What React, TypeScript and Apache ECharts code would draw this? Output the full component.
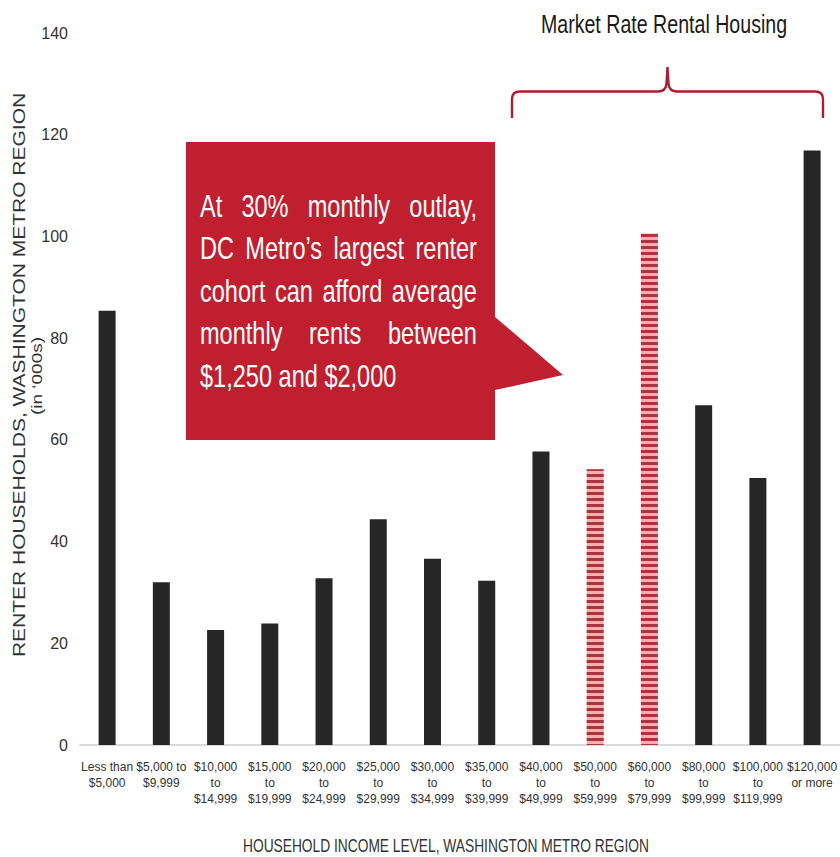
import { useEffect, useRef } from "react";
import * as echarts from "echarts";

// Household income brackets (x axis)
const CATEGORIES = [
  "Less than\n$5,000",
  "$5,000 to\n$9,999",
  "$10,000\nto\n$14,999",
  "$15,000\nto\n$19,999",
  "$20,000\nto\n$24,999",
  "$25,000\nto\n$29,999",
  "$30,000\nto\n$34,999",
  "$35,000\nto\n$39,999",
  "$40,000\nto\n$49,999",
  "$50,000\nto\n$59,999",
  "$60,000\nto\n$79,999",
  "$80,000\nto\n$99,999",
  "$100,000\nto\n$119,999",
  "$120,000\nor more",
];

// Renter households, thousands
const RENTER_HOUSEHOLDS = [85.4, 32.0, 22.6, 23.9, 32.8, 44.4, 36.6, 32.3, 57.7, 54.2, 100.6, 66.8, 52.5, 116.9];

// Brackets whose rents fall in the $1,250 - $2,000 range
const AFFORDABLE_COHORT = ["$50,000\nto\n$59,999", "$60,000\nto\n$79,999"];

const Y_MIN = 0;
const Y_MAX = 140;
const Y_INTERVAL = 20;

const TITLE = "Market Rate Rental Housing";
const X_AXIS_NAME = "HOUSEHOLD INCOME LEVEL, WASHINGTON METRO REGION";
const Y_AXIS_NAME = "RENTER HOUSEHOLDS, WASHINGTON METRO REGION";
const Y_AXIS_UNIT = "(in ‘000s)";
const CALLOUT_LINES = [
  "At 30% monthly outlay,",
  "DC Metro’s largest renter",
  "cohort can afford average",
  "monthly rents between",
  "$1,250 and $2,000",
];

const SANS = "'Liberation Sans', Arial, sans-serif";
const BAR_DARK = "#262626";
const CALLOUT_RED = "#c01f2f";
const BRACE_RED = "#a81f2d";

// Curly bracket spanning the market-rate brackets
echarts.graphic.registerShape(
  "marketBrace",
  echarts.graphic.extendPath(
    "M512,118 L512,99 Q512,91.5 520,91.5 L658,91.5 Q665.5,91.5 666.5,84 L667.5,67 L668.5,84 Q669.5,91.5 677,91.5 L815,91.5 Q823,91.5 823,99 L823,118",
    {}
  )
);

function measureWidth(text: string, font: string): number {
  const ctx = document.createElement("canvas").getContext("2d");
  if (!ctx) return text.length * 10;
  ctx.font = font;
  return ctx.measureText(text).width;
}

// Justified white text inside the callout box
function calloutText(): any[] {
  const size = 31;
  const sx = 0.76;
  const left = 200;
  const right = 477;
  const firstBaseline = 217;
  const step = 42.4;
  const font = `${size}px 'Liberation Sans'`;
  const out: any[] = [];
  CALLOUT_LINES.forEach((line, i) => {
    const y = firstBaseline + i * step - 0.3465 * size;
    const last = i === CALLOUT_LINES.length - 1;
    const words = last ? [line] : line.split(" ");
    const widths = words.map((w) => measureWidth(w, font) * sx);
    const total = widths.reduce((a, b) => a + b, 0);
    const gap = words.length > 1 ? (right - left - total) / (words.length - 1) : 0;
    let x = left;
    words.forEach((w, j) => {
      out.push({
        type: "text",
        x,
        y,
        scaleX: sx,
        z: 20,
        style: {
          text: w,
          fill: "#ffffff",
          fontSize: size,
          fontFamily: SANS,
          align: "left",
          textAlign: "left",
          verticalAlign: "middle",
          textVerticalAlign: "middle",
        },
      });
      x += widths[j] + gap;
    });
  });
  return out;
}

export default function App() {
  const ref = useRef<HTMLDivElement>(null);

  useEffect(() => {
    if (!ref.current) return;
    const chart = echarts.init(ref.current, null, { renderer: "svg" });

    const data = RENTER_HOUSEHOLDS.map((v, i) => {
      const highlighted = AFFORDABLE_COHORT.includes(CATEGORIES[i]);
      return highlighted
        ? {
            value: v,
            itemStyle: {
              color: "#f3aeae",
              decal: {
                symbol: "rect",
                symbolSize: 1,
                dashArrayX: [1, 0],
                dashArrayY: [2.3, 2.3],
                rotation: 0,
                color: "#a9353e",
              },
            },
          }
        : { value: v, itemStyle: { color: BAR_DARK } };
    });

    chart.setOption({
      animation: false,
      backgroundColor: "#ffffff",
      grid: { left: 80, top: 33, width: 763, height: 712 },
      xAxis: {
        type: "category",
        data: CATEGORIES,
        axisLine: { lineStyle: { color: "#d9d9d9", width: 2 } },
        axisTick: { show: false },
        axisLabel: {
          interval: 0,
          color: "#333333",
          fontFamily: SANS,
          fontSize: 12,
          lineHeight: 16,
          margin: 14,
        },
      },
      yAxis: {
        type: "value",
        min: Y_MIN,
        max: Y_MAX,
        interval: Y_INTERVAL,
        splitLine: { show: false },
        axisLine: { show: false },
        axisTick: { show: false },
        axisLabel: { color: "#333333", fontFamily: SANS, fontSize: 16, margin: 12 },
      },
      series: [
        {
          type: "bar",
          barWidth: 17,
          data,
        },
      ],
      graphic: [
        {
          type: "marketBrace",
          x: 0,
          y: 0,
          style: { fill: "none", stroke: BRACE_RED, lineWidth: 2.4 },
        },
        {
          type: "text",
          x: 664,
          y: 24,
          scaleX: 0.74,
          style: {
            text: TITLE,
            fill: "#1a1a1a",
            fontSize: 26.5,
            fontFamily: SANS,
            align: "center",
            textAlign: "center",
            verticalAlign: "middle",
            textVerticalAlign: "middle",
          },
        },
        {
          type: "polygon",
          z: 10,
          shape: {
            points: [
              [186, 142],
              [495, 142],
              [495, 317],
              [563, 375],
              [495, 390],
              [495, 440],
              [186, 440],
            ],
          },
          style: { fill: CALLOUT_RED },
        },
        ...calloutText(),
        {
          type: "text",
          x: 446,
          y: 846,
          scaleX: 0.725,
          style: {
            text: X_AXIS_NAME,
            fill: "#333333",
            fontSize: 19,
            fontFamily: SANS,
            align: "center",
            textAlign: "center",
            verticalAlign: "middle",
            textVerticalAlign: "middle",
          },
        },
        {
          type: "text",
          x: 19.5,
          y: 375,
          rotation: Math.PI / 2,
          scaleY: 0.8,
          style: {
            text: Y_AXIS_NAME,
            fill: "#333333",
            fontSize: 21,
            fontFamily: SANS,
            align: "center",
            textAlign: "center",
            verticalAlign: "middle",
            textVerticalAlign: "middle",
          },
        },
        {
          type: "text",
          x: 37,
          y: 376,
          rotation: Math.PI / 2,
          scaleY: 0.78,
          style: {
            text: Y_AXIS_UNIT,
            fill: "#333333",
            fontSize: 19,
            fontFamily: SANS,
            align: "center",
            textAlign: "center",
            verticalAlign: "middle",
            textVerticalAlign: "middle",
          },
        },
      ],
    });

    return () => chart.dispose();
  }, []);

  return (
    <div
      ref={ref}
      style={{ position: "absolute", left: 0, top: 0, width: 840, height: 857, background: "#fff" }}
    />
  );
}
